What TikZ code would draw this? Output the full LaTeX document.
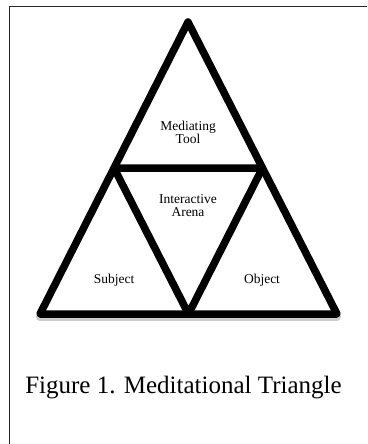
\documentclass[tikz,border=0pt]{standalone}
\usepackage{fontspec}
\setmainfont{Liberation Serif}
\usetikzlibrary{positioning,calc}

\tikzset{
  side/.style={line width=7.5pt, line join=round, line cap=round},
  lbl/.style={font=\fontsize{13.5}{13}\selectfont, align=center, inner sep=0pt},
}

\begin{document}
\begin{tikzpicture}[x=1pt, y=-1pt]
    \useasboundingbox (0,0) rectangle (367,444);
    \draw[line width=1pt, black!85] (9,444) -- (9,7) -- (367,7);
    % corners and midpoints
    \coordinate (top) at (188,22);
    \coordinate (bl) at (40,314);
    \coordinate (br) at (337,314);
    \coordinate (ml) at ($(top)!.5!(bl)$);
    \coordinate (mr) at ($(top)!.5!(br)$);
    \coordinate (mb) at ($(bl)!.5!(br)$);
    \draw[black!20, line width=8pt, line cap=round] ([yshift=-3pt]bl) -- ([yshift=-3pt]br);
    \draw[side, fill=white] (top) -- (bl) -- (br) -- cycle;
    \draw[side] (ml) -- (mr) -- (mb) -- cycle;
    \node[lbl] (tool) at (188,132) {Mediating\\Tool};
    \node[lbl] (arena) at (188,206) {Interactive\\Arena};
    \node[lbl] (subject) at (114,280) {Subject};
    \node[lbl] (object) at (262,280) {Object};
    \node[font=\fontsize{25}{30}\selectfont, inner sep=0pt] (caption) at (183.5,388) {Figure 1. Meditational Triangle};
\end{tikzpicture}
\end{document}
